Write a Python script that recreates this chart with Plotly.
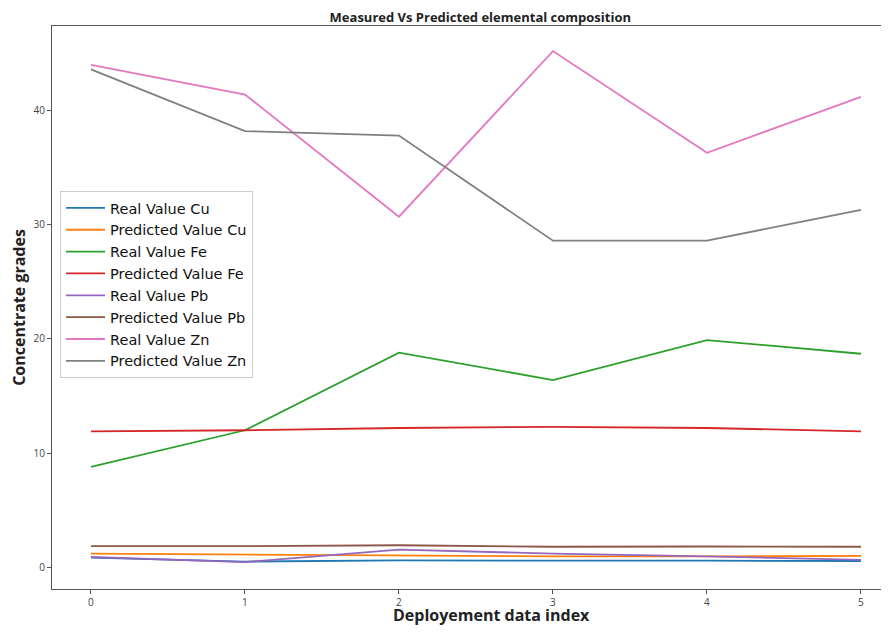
import plotly.graph_objects as go

x_index = [0, 1, 2, 3, 4, 5]

real_cu = [0.85, 0.50, 0.60, 0.62, 0.58, 0.55]
pred_cu = [1.20, 1.10, 1.05, 0.95, 0.95, 1.00]
real_fe = [8.8, 12.0, 18.8, 16.4, 19.9, 18.7]
pred_fe = [11.9, 12.0, 12.2, 12.3, 12.2, 11.9]
real_pb = [0.90, 0.45, 1.55, 1.20, 0.95, 0.65]
pred_pb = [1.85, 1.85, 1.93, 1.80, 1.82, 1.80]
real_zn = [44.0, 41.4, 30.7, 45.2, 36.3, 41.2]
pred_zn = [43.6, 38.2, 37.8, 28.6, 28.6, 31.3]

series_names = [
    "Real Value Cu", "Predicted Value Cu",
    "Real Value Fe", "Predicted Value Fe",
    "Real Value Pb", "Predicted Value Pb",
    "Real Value Zn", "Predicted Value Zn",
]
series_values = [real_cu, pred_cu, real_fe, pred_fe, real_pb, pred_pb, real_zn, pred_zn]
colors = ["#1f77b4", "#ff7f0e", "#2ca02c", "#d62728",
          "#9467bd", "#8c564b", "#e377c2", "#7f7f7f"]

x_ticks = [0, 1, 2, 3, 4, 5]
y_ticks = [0, 10, 20, 30, 40]

fig = go.Figure()
for name, vals, col in zip(series_names, series_values, colors):
    fig.add_trace(go.Scatter(x=x_index, y=vals, mode="lines", name=name,
                             line=dict(color=col, width=1.8)))

axis_common = dict(
    showgrid=False, zeroline=False, showline=True,
    linecolor="#555555", linewidth=1.2, automargin=False,
    ticks="outside", ticklen=4, tickcolor="#555555", tickwidth=1,
    tickfont=dict(family="Open Sans", size=10, color="#444444"),
)

fig.update_layout(
    width=873, height=619,
    margin=dict(l=44, r=0, t=18, b=38),
    paper_bgcolor="white", plot_bgcolor="white",
    title=dict(text="<b>Measured Vs Predicted elemental composition</b>",
               x=0.541, xanchor="center", y=0.985, yanchor="middle",
               font=dict(family="Open Sans", size=13, color="#222222")),
    xaxis=dict(range=[-0.253, 5.13], tickvals=x_ticks, mirror=True,
               **axis_common),
    yaxis=dict(range=[-1.9, 47.4], tickvals=y_ticks, mirror=False,
               title=dict(text="<b>Concentrate grades</b>", standoff=12,
                          font=dict(family="Open Sans", size=16, color="#222222")),
               **axis_common),
    legend=dict(x=0.0097, y=0.707, xanchor="left", yanchor="top",
                bgcolor="rgba(255,255,255,0.85)", bordercolor="#cccccc", borderwidth=1,
                font=dict(family="DejaVu Sans", size=14.5, color="#111111"),
                itemwidth=39, tracegroupgap=0),
    showlegend=True,
    annotations=[dict(text="<b>Deployement data index</b>", xref="paper", yref="paper",
                      x=0.5296, y=-0.047, xanchor="center", yanchor="middle",
                      showarrow=False,
                      font=dict(family="Open Sans", size=16, color="#222222"))],
)

fig.write_html("out.html")
